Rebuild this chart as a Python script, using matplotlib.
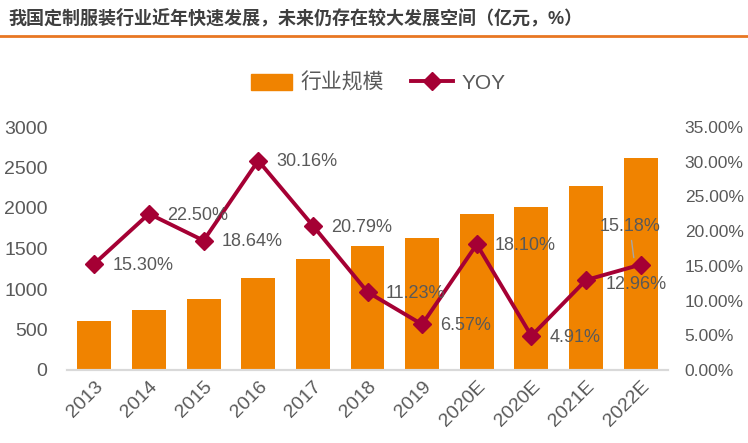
import matplotlib
matplotlib.use("Agg")
import matplotlib.pyplot as plt
from matplotlib.lines import Line2D
from matplotlib.patches import Patch
import numpy as np

plt.rcParams['font.family'] = ['Liberation Sans', 'Noto Sans CJK SC', 'DejaVu Sans']

# ------------------------ data
years = ["2013", "2014", "2015", "2016", "2017", "2018", "2019",
         "2020E", "2020E", "2021E", "2022E"]
scale = [605, 740, 878, 1140, 1375, 1533, 1632, 1928, 2015, 2275, 2620]   # 亿元
yoy = [15.30, 22.50, 18.64, 30.16, 20.79, 11.23, 6.57, 18.10, 4.91, 12.96, 15.18]  # %

title = "我国定制服装行业近年快速发展，未来仍存在较大发展空间（亿元，%）"

bar_color = "#F08300"
line_color = "#A50034"
text_color = "#595959"

# ------------------------ figure
fig = plt.figure(figsize=(7.48, 4.43), dpi=100)
ax = fig.add_axes([67 / 748, 73 / 443, 601 / 748, 243 / 443])
ax2 = ax.twinx()

x = np.arange(len(years))
ax.bar(x, scale, width=0.62, color=bar_color, zorder=2)
ax2.plot(x, yoy, color=line_color, lw=2.8, marker="D", markersize=9, zorder=3)

ax.set_xlim(-0.5, len(years) - 0.5)
ax.set_ylim(0, 3000)
ax2.set_ylim(0, 35)

ax.set_yticks(range(0, 3001, 500))
ax.set_yticklabels([str(v) for v in range(0, 3001, 500)], fontsize=14, color=text_color)
ax2.set_yticks(range(0, 36, 5))
ax2.set_yticklabels(["%.2f%%" % v for v in range(0, 36, 5)], fontsize=12.5, color=text_color)
ax.set_xticks(x)
ax.set_xticklabels(years, rotation=45, ha="right", rotation_mode="anchor",
                   fontsize=14, color=text_color)

for a in (ax, ax2):
    for s in ("top", "left", "right"):
        a.spines[s].set_visible(False)
    a.spines["bottom"].set_color("#D9D9D9")
    a.spines["bottom"].set_linewidth(1.5)
    a.tick_params(length=0)
ax.tick_params(axis="y", pad=14)
ax.tick_params(axis="x", pad=6)
ax2.tick_params(axis="y", pad=12)

# ------------------------ data labels
for i, v in enumerate(yoy):
    lbl = "%.2f%%" % v
    if i == len(yoy) - 1:
        ax2.annotate(lbl, xy=(i - 0.12, v + 0.6), xytext=(i - 0.2, v + 5.5),
                     ha="center", va="center", fontsize=13, color=text_color,
                     arrowprops=dict(arrowstyle="-", color="#A6A6A6", lw=1))
    elif i == len(yoy) - 2:
        ax2.annotate(lbl, xy=(i, v), xytext=(14, -3), textcoords="offset points",
                     ha="left", va="center", fontsize=13, color=text_color)
    else:
        ax2.annotate(lbl, xy=(i, v), xytext=(13, -1), textcoords="offset points",
                     ha="left", va="center", fontsize=13, color=text_color)

# ------------------------ legend
handles = [Patch(color=bar_color, label="行业规模"),
           Line2D([0], [0], color=line_color, lw=2.8, marker="D", markersize=9, label="YOY")]
fig.legend(handles=handles, loc="center", bbox_to_anchor=(378 / 748, 1 - 83 / 443),
           ncol=2, frameon=False, fontsize=15, handlelength=2.0, handleheight=0.8,
           handletextpad=0.4, columnspacing=1.3, labelcolor=text_color)

# ------------------------ title + rule
fig.text(8 / 748, 1 - 18 / 443, title, fontsize=13, fontweight="bold",
         color="#3F3F3F", ha="left", va="center")
fig.add_artist(Line2D([0, 1], [1 - 36 / 443, 1 - 36 / 443], transform=fig.transFigure,
                      color="#E87722", lw=2))

fig.savefig("out.png", dpi=100)
